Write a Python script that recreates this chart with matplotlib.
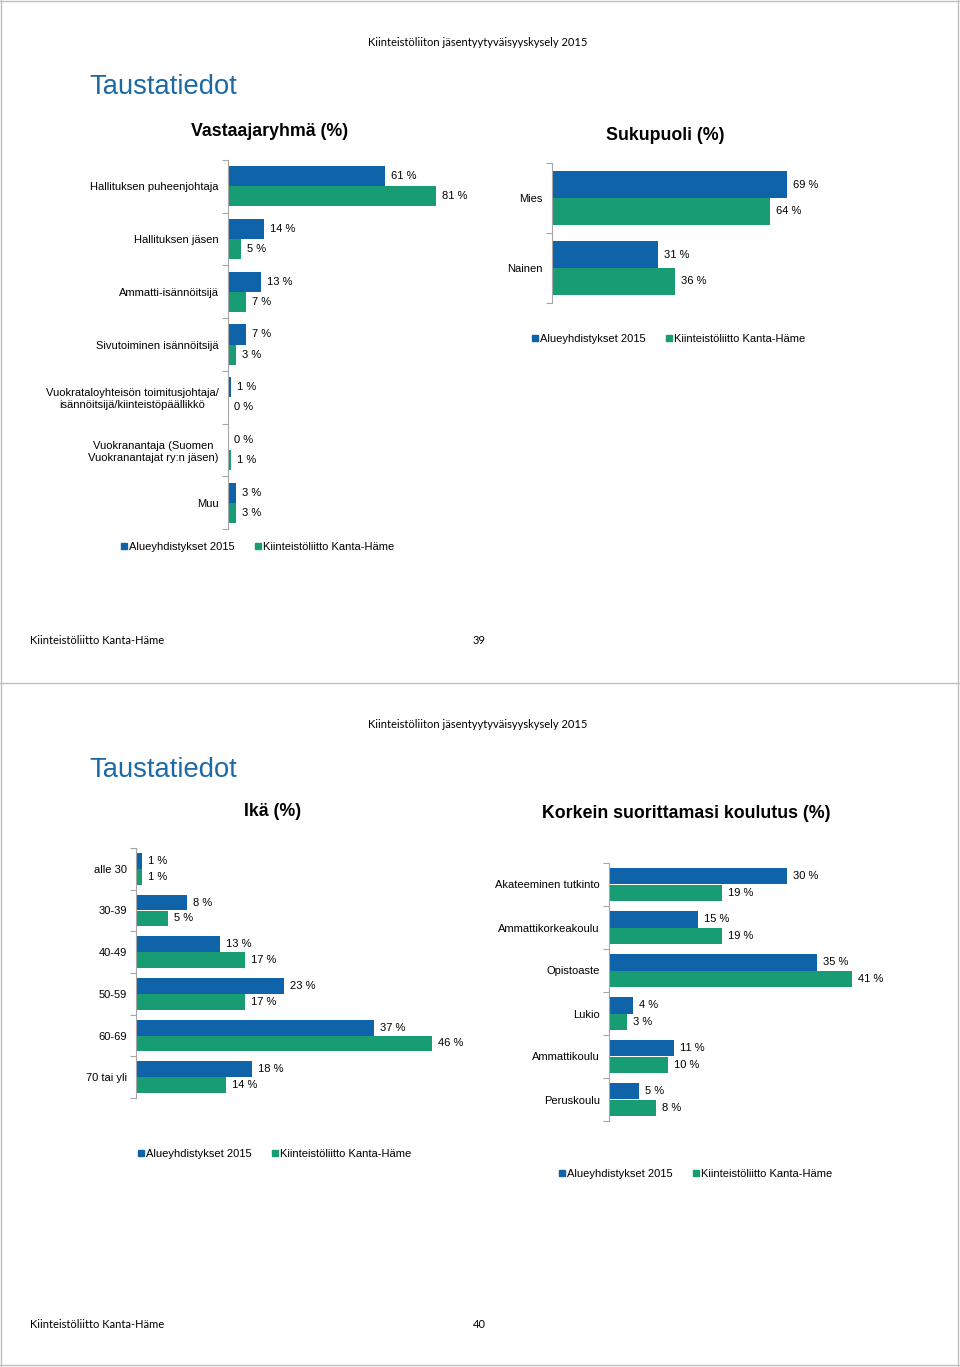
import matplotlib
matplotlib.use('Agg')
import matplotlib.pyplot as plt
from matplotlib.lines import Line2D
import numpy as np

W, H = 960, 1367
BLUE = '#0F63A8'
GREEN = '#179C73'
TITLE_BLUE = '#1B6AA5'
GRID = '#A6A6A6'
FS = 8

plt.rcParams['font.family'] = ['Liberation Sans', 'DejaVu Sans']

series_names = ['Alueyhdistykset 2015', 'Kiinteistöliitto Kanta-Häme']

# Vastaajaryhmä (%)
rooli_cats = ['Hallituksen puheenjohtaja', 'Hallituksen jäsen', 'Ammatti-isännöitsijä',
              'Sivutoiminen isännöitsijä',
              'Vuokrataloyhteisön toimitusjohtaja/\nisännöitsijä/kiinteistöpäällikkö',
              'Vuokranantaja (Suomen\nVuokranantajat ry:n jäsen)', 'Muu']
rooli_alue = [61, 14, 13, 7, 1, 0, 3]
rooli_kanta = [81, 5, 7, 3, 0, 1, 3]

# Sukupuoli (%)
sukupuoli_cats = ['Mies', 'Nainen']
sukupuoli_alue = [69, 31]
sukupuoli_kanta = [64, 36]

# Ikä (%)
ika_cats = ['alle 30', '30-39', '40-49', '50-59', '60-69', '70 tai yli']
ika_alue = [1, 8, 13, 23, 37, 18]
ika_kanta = [1, 5, 17, 17, 46, 14]

# Korkein suorittamasi koulutus (%)
koulutus_cats = ['Akateeminen tutkinto', 'Ammattikorkeakoulu', 'Opistoaste', 'Lukio',
                 'Ammattikoulu', 'Peruskoulu']
koulutus_alue = [30, 15, 35, 4, 11, 5]
koulutus_kanta = [19, 19, 41, 3, 10, 8]

fig = plt.figure(figsize=(W / 100, H / 100), dpi=100)


def fx(x):
    return x / W


def fy(y):
    return 1 - y / H


def bar_chart(left, top, bottom, px_per_pct, xmax, cats, alue, kanta,
              title, title_xy, legend_xy, bar_h=0.38):
    ax = fig.add_axes([fx(left), fy(bottom), px_per_pct * xmax / W, (bottom - top) / H])
    n = len(cats)
    y = np.arange(n)
    ax.barh(y - bar_h / 2, alue, height=bar_h, color=BLUE, linewidth=0)
    ax.barh(y + bar_h / 2, kanta, height=bar_h, color=GREEN, linewidth=0)
    for yy, vals in ((y - bar_h / 2, alue), (y + bar_h / 2, kanta)):
        for yv, v in zip(yy, vals):
            ax.annotate(f'{v} %', (v, yv), xytext=(6, 0), textcoords='offset pixels',
                        va='center', ha='left', fontsize=FS, annotation_clip=False)
    ax.set_xlim(0, xmax)
    ax.set_ylim(n - 0.5, -0.5)
    ax.set_yticks(y)
    ax.set_yticklabels(cats)
    for lab in ax.get_yticklabels():
        lab.set_multialignment('center')
    ax.set_yticks(np.arange(n + 1) - 0.5, minor=True)
    ax.tick_params(axis='y', which='major', length=0, pad=6.5, labelsize=FS)
    ax.tick_params(axis='y', which='minor', length=4, color=GRID, width=0.8)
    ax.set_xticks([])
    for s in ['top', 'right', 'bottom']:
        ax.spines[s].set_visible(False)
    ax.spines['left'].set_color(GRID)
    ax.spines['left'].set_linewidth(0.8)
    ax.patch.set_visible(False)

    fig.text(fx(title_xy[0]), fy(title_xy[1]), title, ha='center', va='center',
             fontsize=12.8, fontweight='bold')

    handles = [Line2D([], [], marker='s', ls='', color=c, markersize=4.5) for c in (BLUE, GREEN)]
    fig.legend(handles, series_names, loc='center left',
               bbox_to_anchor=(fx(legend_xy[0]), fy(legend_xy[1])),
               ncol=2, frameon=False, fontsize=FS, handlelength=0.5, handletextpad=0.25,
               columnspacing=1.8, borderpad=0, borderaxespad=0)
    return ax


def slide(top, page):
    fig.text(fx(478), fy(top + 42), 'Kiinteistöliiton jäsentyytyväisyyskysely 2015',
             ha='center', va='center', fontsize=8, family=['Lato', 'DejaVu Sans'])
    fig.text(fx(89), fy(top + 87), 'Taustatiedot', ha='left', va='center',
             fontsize=19.7, color=TITLE_BLUE)
    fig.text(fx(30), fy(top + 641), 'Kiinteistöliitto Kanta-Häme', ha='left', va='center',
             fontsize=8, family=['Lato', 'DejaVu Sans'])
    fig.text(fx(479), fy(top + 641), str(page), ha='center', va='center',
             fontsize=8, family=['Lato', 'DejaVu Sans'])


slide(0, 39)
slide(683, 40)

# slide borders
for x in (1, 958):
    fig.add_artist(Line2D([fx(x), fx(x)], [0, 1], color='#BFBFBF', lw=1))
for yv in (0.5, 683, 1365):
    fig.add_artist(Line2D([0, 1], [fy(yv), fy(yv)], color='#BFBFBF', lw=1))

bar_chart(228, 160, 529, 2.57, 100, rooli_cats, rooli_alue, rooli_kanta,
          'Vastaajaryhmä (%)', (270, 131), (121, 547))
bar_chart(552, 163, 303, 3.41, 100, sukupuoli_cats, sukupuoli_alue, sukupuoli_kanta,
          'Sukupuoli (%)', (665, 135), (532, 339))
bar_chart(136, 848, 1098, 6.43, 50, ika_cats, ika_alue, ika_kanta,
          'Ikä (%)', (273, 812), (138, 1154))
bar_chart(609, 863, 1121, 5.93, 50, koulutus_cats, koulutus_alue, koulutus_kanta,
          'Korkein suorittamasi koulutus (%)', (686, 813), (559, 1174))

fig.savefig('out.png', dpi=100)
